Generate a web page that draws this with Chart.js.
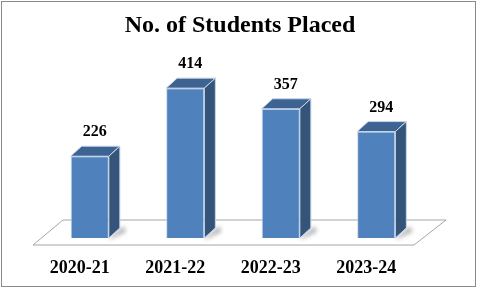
<!DOCTYPE html>
<html>
<head>
<meta charset="utf-8">
<script src="https://cdn.jsdelivr.net/npm/chart.js@4/dist/chart.umd.min.js"></script>
<style>
  html, body { margin: 0; padding: 0; background: #fff; }
  #wrap { width: 480px; height: 290px; }
</style>
</head>
<body>
<div id="wrap"><canvas id="placed_graph" width="480" height="290"></canvas></div>
<script>
const years = ['2020-21', '2021-22', '2022-23', '2023-24'];
const placed = [226, 414, 357, 294];
const yMax = 500;
const chartTitle = 'No. of Students Placed';

// depth of the fake 3d boxes
const DX = 11, DY = -10;
const SERIF = '"Liberation Serif", "Times New Roman", serif';

const box3d = {
  id: 'box3d',
  beforeDatasetsDraw(chart) {
    const ctx = chart.ctx;
    const a = chart.chartArea;
    // floor
    ctx.save();
    ctx.beginPath();
    ctx.moveTo(a.left - 9, a.bottom + 7);
    ctx.lineTo(a.left + 21, a.bottom - 18);
    ctx.lineTo(a.right + 22, a.bottom - 18);
    ctx.lineTo(a.right - 10, a.bottom + 7);
    ctx.closePath();
    ctx.fillStyle = '#ffffff';
    ctx.fill();
    ctx.strokeStyle = '#a6a6a6';
    ctx.lineWidth = 1;
    ctx.stroke();
    // little shadows right of the bars
    const meta = chart.getDatasetMeta(0);
    ctx.filter = 'blur(2px)';
    ctx.fillStyle = 'rgba(90,90,90,0.45)';
    meta.data.forEach(bar => {
      const r = bar.x + bar.width / 2;
      ctx.beginPath();
      ctx.moveTo(r, bar.base);
      ctx.lineTo(r + DX + 4, bar.base + DY - 2);
      ctx.lineTo(r + DX + 6, bar.base + DY + 4);
      ctx.lineTo(r + 2, bar.base + 1);
      ctx.closePath();
      ctx.fill();
    });
    ctx.restore();
  },
  afterDatasetsDraw(chart) {
    const ctx = chart.ctx;
    const meta = chart.getDatasetMeta(0);
    ctx.save();
    ctx.lineWidth = 1;
    ctx.strokeStyle = '#c9d6ea';
    meta.data.forEach((bar, i) => {
      const l = bar.x - bar.width / 2, r = bar.x + bar.width / 2;
      const t = bar.y, b = bar.base;
      // top
      ctx.beginPath();
      ctx.moveTo(l, t);
      ctx.lineTo(l + DX, t + DY);
      ctx.lineTo(r + DX, t + DY);
      ctx.lineTo(r, t);
      ctx.closePath();
      ctx.fillStyle = '#3d6393';
      ctx.fill();
      ctx.stroke();
      // side
      ctx.beginPath();
      ctx.moveTo(r, t);
      ctx.lineTo(r + DX, t + DY);
      ctx.lineTo(r + DX, b + DY);
      ctx.lineTo(r, b);
      ctx.closePath();
      ctx.fillStyle = '#345479';
      ctx.fill();
      ctx.stroke();
      // value label
      ctx.fillStyle = '#000';
      ctx.font = 'bold 16px ' + SERIF;
      ctx.textAlign = 'center';
      ctx.textBaseline = 'middle';
      ctx.fillText(placed[i], bar.x + 5, t + DY - 14);
      // category label, sits on the front edge of the floor
      ctx.font = 'bold 18px ' + SERIF;
      ctx.fillText(years[i], bar.x - 10, 268);
    });
    // title, centred on the whole picture
    ctx.textBaseline = 'alphabetic';
    ctx.font = 'bold 24px ' + SERIF;
    ctx.fillText(chartTitle, 240, 32);
    // outer frame
    ctx.strokeStyle = '#8a8a8a';
    ctx.strokeRect(1.5, 1.5, 474, 285);
    ctx.restore();
  }
};

const ctx = document.getElementById('placed_graph').getContext('2d');
const placedChart = new Chart(ctx, {
  type: 'bar',
  data: {
    labels: years,
    datasets: [{
      data: placed,
      backgroundColor: '#4f81bd',
      borderColor: '#c9d6ea',
      borderWidth: 1,
      barPercentage: 0.4,
      categoryPercentage: 1.0
    }]
  },
  options: {
    responsive: false,
    animation: false,
    events: [],
    layout: { padding: { left: 42, right: 56, top: 57, bottom: 52 } },
    scales: {
      x: { display: false },
      y: { display: false, min: 0, max: yMax }
    },
    plugins: {
      legend: { display: false },
      tooltip: { enabled: false },
      title: { display: false }
    }
  },
  plugins: [box3d]
});
</script>
</body>
</html>
